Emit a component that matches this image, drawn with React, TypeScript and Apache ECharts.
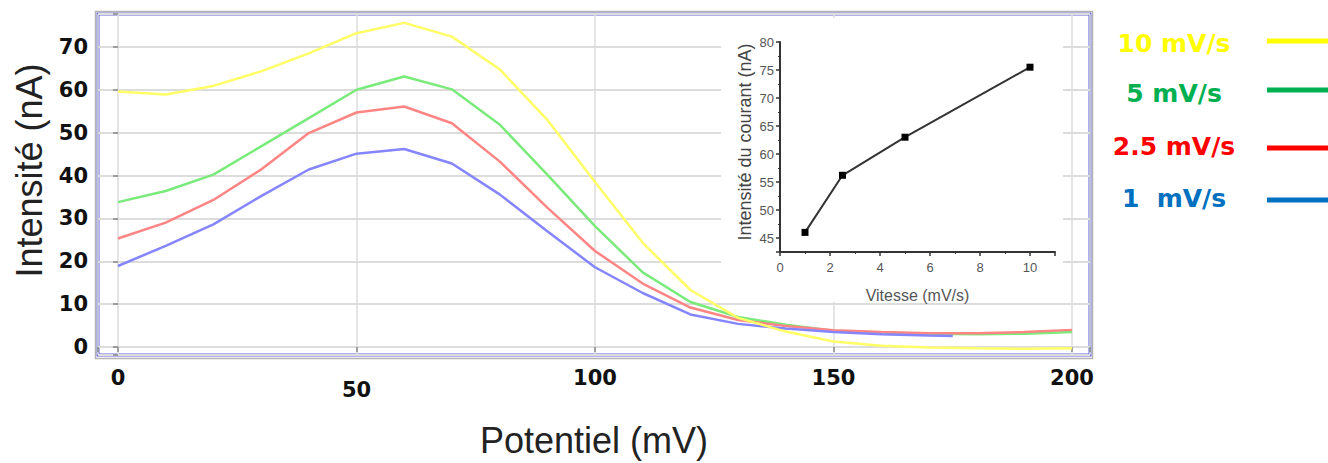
import React, { useEffect, useRef } from 'react';
import * as echarts from 'echarts';

// ---- data ----
const potentials = [0, 10, 20, 30, 40, 50, 60, 70, 80, 90, 100, 110, 120, 130, 140, 150, 160, 170, 180, 190, 200];
const bluePotentials = [0, 10, 20, 30, 40, 50, 60, 70, 80, 90, 100, 110, 120, 130, 140, 150, 160, 170, 175];
const current10 = [59.6, 58.9, 60.9, 64.3, 68.5, 73.2, 75.6, 72.4, 64.8, 53, 38.5, 24.3, 13.3, 6.8, 3.6, 1.3, 0.3, -0.1, -0.3, -0.4, -0.3];
const current5 = [33.8, 36.4, 40.2, 46.8, 53.4, 60, 63.1, 60.1, 51.9, 40.2, 28.2, 17.4, 10.5, 7, 5.2, 3.8, 3.4, 3.1, 3, 3.1, 3.5];
const current25 = [25.3, 29, 34.3, 41.4, 49.9, 54.7, 56.1, 52.2, 43.3, 32.5, 22.4, 14.8, 9.2, 6.3, 4.9, 3.9, 3.5, 3.2, 3.2, 3.5, 4.0];
const current1 = [18.9, 23.6, 28.6, 35.2, 41.4, 45.1, 46.2, 42.8, 35.6, 27, 18.6, 12.6, 7.6, 5.4, 4.3, 3.5, 3.0, 2.7, 2.6];
const seriesNames = ['10 mV/s', '5 mV/s', '2.5 mV/s', '1  mV/s'];
const lineColors = ['#ffff66', '#7aea7a', '#ff8585', '#8585ff'];
const legendColors = ['#ffff00', '#00b050', '#ff0000', '#0070c0'];

const speeds = [1, 2.5, 5, 10];
const peakCurrents = [46, 56.2, 63, 75.5];

const pairs = (xs: number[], ys: number[]) => xs.map((x, i) => [x, ys[i]]);

export default function App() {
  const ref = useRef<HTMLDivElement>(null);
  useEffect(() => {
    document.body.style.margin = '0';
    const chart = echarts.init(ref.current!, null, { renderer: 'svg' });
    const tickFont = { fontSize: 21, fontWeight: 'bold', fontFamily: 'DejaVu Sans', color: '#111' };
    const mainSeriesData = [
      pairs(potentials, current10),
      pairs(potentials, current5),
      pairs(potentials, current25),
      pairs(bluePotentials, current1),
    ];
    const drawOrder = [1, 2, 3, 0];
    const legendY = [43, 93, 146, 198];
    const legendLineY = [41, 90, 148, 200];
    const graphic: any[] = [
      { type: 'rect', z: 1, shape: { x: 721, y: 18, width: 342, height: 284 }, style: { fill: '#ffffff' } },
      { type: 'rect', z: 0, shape: { x: 95.5, y: 11.5, width: 997, height: 347 }, style: { fill: 'none', stroke: '#b4b4b4', lineWidth: 1.5 } },
    ];
    seriesNames.forEach((n, i) => {
      graphic.push({
        type: 'text', z: 10, x: 1174, y: legendY[i],
        style: { text: n, fill: legendColors[i], fontSize: 25, fontWeight: 'bold', fontFamily: 'DejaVu Sans', align: 'center', verticalAlign: 'middle' },
      });
      graphic.push({
        type: 'line', z: 10, shape: { x1: 1267, y1: legendLineY[i], x2: 1328, y2: legendLineY[i] },
        style: { stroke: legendColors[i], lineWidth: 5 },
      });
    });
    chart.setOption({
      animation: false,
      backgroundColor: '#ffffff',
      graphic,
      grid: [
        { left: 98, right: 238, top: 14, bottom: 107, show: true, borderColor: '#6262de', borderWidth: 3, backgroundColor: 'transparent', containLabel: false },
        { left: 780, right: 273, top: 42, bottom: 211, containLabel: false },
      ],
      xAxis: [
        {
          type: 'value', gridIndex: 0, min: -4.19, max: 203.77, minInterval: 50, maxInterval: 50,
          axisLine: { show: false },
          axisTick: { show: true, length: 5, lineStyle: { color: '#888', width: 1.5 } },
          splitLine: { show: true, lineStyle: { color: '#dcdcdc', width: 1.5 } },
          axisLabel: {
            margin: 12,
            formatter: (v: number) => (Math.abs(v % 50) < 1e-6 ? (Math.round(v) === 50 ? `{lo|${Math.round(v)}}` : `{n|${Math.round(v)}}`) : ''),
            rich: { n: { ...tickFont }, lo: { ...tickFont, padding: [12, 0, 0, 0] } },
          },
          name: 'Potentiel (mV)', nameLocation: 'middle', nameGap: 67,
          nameTextStyle: { fontSize: 36, fontFamily: 'Liberation Sans', color: '#222' },
        },
        {
          type: 'value', gridIndex: 1, min: 0, max: 11, minInterval: 2, maxInterval: 2, z: 5,
          axisLine: { show: true, onZero: false, lineStyle: { color: '#333', width: 2 } },
          axisTick: { show: true, length: 4, lineStyle: { color: '#333', width: 1.5 } },
          minorTick: { show: true, splitNumber: 2, length: 2, lineStyle: { color: '#333', width: 1 } },
          splitLine: { show: false },
          axisLabel: { margin: 9, fontSize: 13, color: '#555', fontFamily: 'Liberation Sans', formatter: (v: number) => (Math.abs(v % 2) < 1e-6 ? String(Math.round(v)) : '') },
          name: 'Vitesse (mV/s)', nameLocation: 'middle', nameGap: 35,
          nameTextStyle: { fontSize: 16, color: '#555', fontFamily: 'Liberation Sans' },
        },
      ],
      yAxis: [
        {
          type: 'value', gridIndex: 0, min: -1.86, max: 77.67, minInterval: 10, maxInterval: 10,
          axisLine: { show: false },
          axisTick: { show: true, length: 5, lineStyle: { color: '#888', width: 1.5 } },
          splitLine: { show: true, lineStyle: { color: '#dcdcdc', width: 2 } },
          axisLabel: {
            margin: 10, ...tickFont,
            formatter: (v: number) => (Math.abs(v % 10) < 1e-6 ? String(Math.round(v)) : ''),
          },
          name: 'Intensité (nA)', nameLocation: 'middle', nameGap: 48,
          nameTextStyle: { fontSize: 36, fontFamily: 'Liberation Sans', color: '#222', padding: [0, 0, 0, 28] },
        },
        {
          type: 'value', gridIndex: 1, min: 42.5, max: 80, minInterval: 5, maxInterval: 5, z: 5,
          axisLine: { show: true, onZero: false, lineStyle: { color: '#333', width: 2 } },
          axisTick: { show: true, length: 4, lineStyle: { color: '#333', width: 1.5 } },
          minorTick: { show: true, splitNumber: 2, length: 2, lineStyle: { color: '#333', width: 1 } },
          splitLine: { show: false },
          axisLabel: { margin: 6, fontSize: 13, color: '#555', fontFamily: 'Liberation Sans', formatter: (v: number) => (Math.abs(v % 5) < 1e-6 ? String(Math.round(v)) : '') },
          name: 'Intensité du courant (nA)', nameLocation: 'middle', nameGap: 26,
          nameTextStyle: { fontSize: 18, color: '#444', fontFamily: 'Liberation Sans', padding: [0, 0, 0, 10] },
        },
      ],
      series: [
        ...drawOrder.map((i) => ({
          type: 'line', name: seriesNames[i], xAxisIndex: 0, yAxisIndex: 0, data: mainSeriesData[i],
          showSymbol: false, symbol: 'none', z: 2,
          lineStyle: { color: lineColors[i], width: 2.5 },
        })),
        {
          type: 'line', name: 'Pic', xAxisIndex: 1, yAxisIndex: 1, data: pairs(speeds, peakCurrents), z: 6,
          symbol: 'rect', symbolSize: 7, itemStyle: { color: '#000' },
          lineStyle: { color: '#333', width: 2 },
        },
      ],
    });
    return () => chart.dispose();
  }, []);
  return <div ref={ref} style={{ width: 1328, height: 463 }} />;
}
